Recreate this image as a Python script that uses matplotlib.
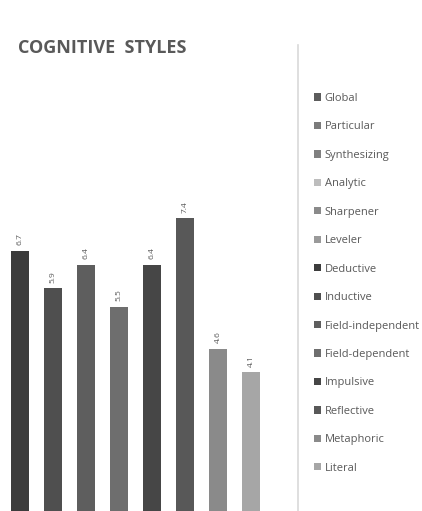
import matplotlib
matplotlib.use("Agg")
import matplotlib.pyplot as plt
from matplotlib.patches import Patch
from matplotlib.lines import Line2D

# Cognitive style series (legend order) and their fill colours
styles = ["Global", "Particular", "Synthesizing", "Analytic", "Sharpener",
          "Leveler", "Deductive", "Inductive", "Field-independent",
          "Field-dependent", "Impulsive", "Reflective", "Metaphoric", "Literal"]
style_colors = ["#5c5c5c", "#7b7b7b", "#808080", "#bdbdbd", "#8a8a8a",
                "#9a9a9a", "#3c3c3c", "#4f4f4f", "#5e5e5e",
                "#6e6e6e", "#464646", "#585858", "#8a8a8a", "#a6a6a6"]

# Bars shown in the plot area
bar_styles = ["Deductive", "Inductive", "Field-independent", "Field-dependent",
              "Impulsive", "Reflective", "Metaphoric", "Literal"]
bar_values = [6.7, 5.9, 6.4, 5.5, 6.4, 7.4, 4.6, 4.1]

text_gray = "#595959"
plt.rcParams["font.family"] = ["Open Sans", "DejaVu Sans"]

W, H = 422, 511
fig = plt.figure(figsize=(W / 100, H / 100), dpi=100)
fig.patch.set_facecolor("white")

# plot area: spans from 45 px below the top down past the bottom edge
ax = fig.add_axes([0, 0, 290 / W, (H - 45) / H])
color_of = dict(zip(styles, style_colors))
xs = list(range(len(bar_values)))
bars = ax.bar(xs, bar_values, width=0.52,
              color=[color_of[s] for s in bar_styles], zorder=2)
for b, v in zip(bars, bar_values):
    ax.annotate(f"{v:.1f}", (b.get_x() + b.get_width() / 2, v),
                xytext=(0, 4), textcoords="offset points",
                rotation=90, ha="center", va="bottom",
                fontsize=6, color=text_gray)
ax.set_xlim(-0.606, 8.18)
ax.set_ylim(1.13, 11.11)
ax.axis("off")

# title
fig.text(18 / W, 1 - 48 / H, "COGNITIVE  STYLES",
         fontsize=13, fontweight="bold", color=text_gray, va="center", ha="left")

# divider between plot and legend
fig.add_artist(Line2D([298 / W, 298 / W], [0, 1 - 45 / H],
                      color="#d9d9d9", lw=1.2, transform=fig.transFigure))

handles = [Patch(facecolor=c, edgecolor="none") for c in style_colors]
leg = fig.legend(handles, styles, loc="upper left",
                 bbox_to_anchor=(314 / W, 1 - 93 / H),
                 frameon=False, fontsize=8, labelcolor=text_gray,
                 handlelength=0.62, handleheight=0.62, handletextpad=0.35,
                 labelspacing=1.57, borderaxespad=0, borderpad=0)

fig.savefig("out.png", dpi=100, facecolor="white")
